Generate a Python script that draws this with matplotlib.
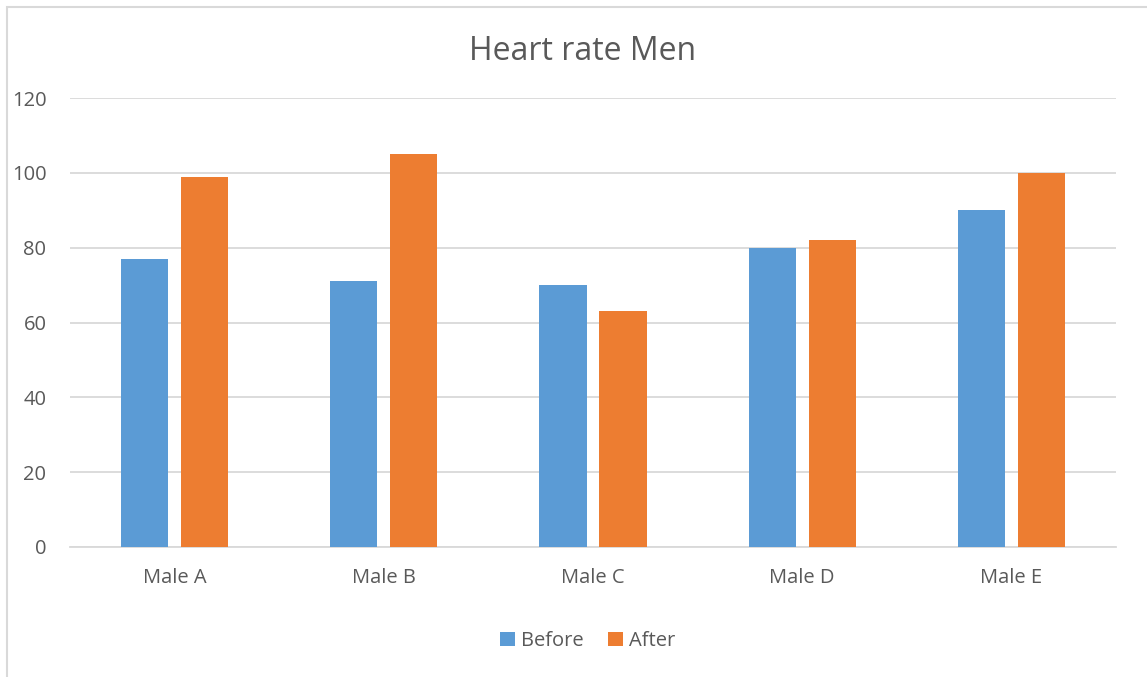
import matplotlib.pyplot as plt
import numpy as np
from matplotlib.patches import Rectangle

categories = ['Male A', 'Male B', 'Male C', 'Male D', 'Male E']
before = [77, 71, 70, 80, 90]
after = [99, 105, 63, 82, 100]
yticks = [0, 20, 40, 60, 80, 100, 120]

plt.rcParams['font.family'] = ['Open Sans', 'DejaVu Sans']
text_col = '#595959'

fig = plt.figure(figsize=(11.47, 6.77), dpi=100)
# light border of the chart area (left and top visible)
fig.patches.append(Rectangle((7 / 1147, -0.1), 1.2, (677 - 7) / 677 + 0.1,
                             transform=fig.transFigure, fill=False,
                             edgecolor='#D9D9D9', linewidth=1.5))

ax = fig.add_axes([70 / 1147, 130 / 677, (1116 - 70) / 1147, (547 - 98) / 677])

x = np.arange(len(categories))
w = 0.225
gap = 0.062
ax.bar(x - (w + gap) / 2, before, w, color='#5B9BD5', label='Before', zorder=3)
ax.bar(x + (w + gap) / 2, after, w, color='#ED7D31', label='After', zorder=3)

ax.set_xlim(-0.5, len(categories) - 0.5)
ax.set_ylim(0, 120)
ax.set_yticks(yticks)
ax.grid(axis='y', color='#D9D9D9', linewidth=1.3, zorder=0)
ax.set_xticks(x)
ax.set_xticklabels(categories)
for s in ['top', 'right', 'left']:
    ax.spines[s].set_visible(False)
ax.spines['bottom'].set_color('#D9D9D9')
ax.spines['bottom'].set_linewidth(1.3)
ax.tick_params(axis='both', length=0, colors=text_col, labelsize=14.5)
ax.tick_params(axis='y', pad=17)
ax.tick_params(axis='x', pad=15)

fig.text(0.508, 1 - 51 / 677, 'Heart rate Men', ha='center', va='center',
         fontsize=23, color=text_col)

leg = fig.legend(loc='center', bbox_to_anchor=(0.512, 1 - 641 / 677), ncol=2,
                 frameon=False, fontsize=14.5, handlelength=0.75, handleheight=0.75,
                 handletextpad=0.3, columnspacing=1.2)
for t in leg.get_texts():
    t.set_color(text_col)

fig.savefig('out.png', dpi=100)
